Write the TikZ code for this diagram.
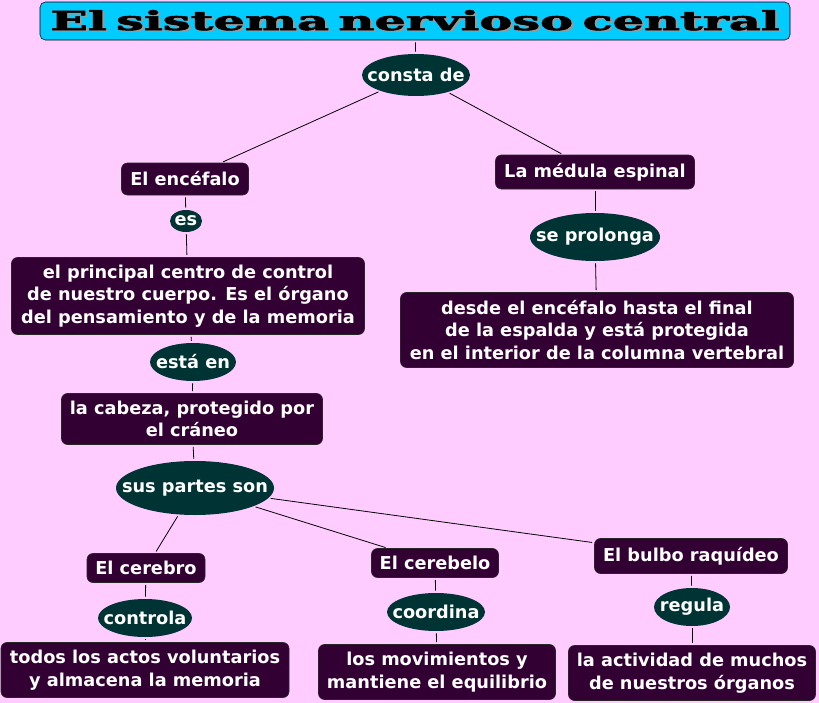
\documentclass[tikz,border=0pt]{standalone}
\usepackage{fontspec}
\usepackage{graphicx}
\setmainfont{DejaVu Sans}
\newfontfamily\titulofont[WordSpace=0.55, BoldFeatures={FakeBold=2}]{DejaVu Serif}
\usetikzlibrary{positioning, shapes.geometric}

\definecolor{fondo}{HTML}{FFCCFF}
\definecolor{caja}{HTML}{330033}
\definecolor{enlace}{HTML}{003333}
\definecolor{titulo}{HTML}{00CCFF}

\newcommand{\estrecho}[1]{\makebox[0pt]{#1}}
\newcommand{\consombra}[1]{\makebox[0pt][l]{\hspace{1.5pt}\raisebox{-1.2pt}{\color{black!40}#1}}#1}

\tikzset{
  concepto/.style={draw=black!85, fill=caja, rounded corners=4.5pt, text=white,
    font=\fontsize{13.3}{16.9}\selectfont\bfseries, align=center, inner sep=1pt, line width=0.5pt},
  palabra/.style={ellipse, fill=enlace, text=white,
    font=\fontsize{13.3}{15}\selectfont\bfseries, inner sep=0pt},
  une/.style={black, line width=0.6pt, shorten <=1.5pt, shorten >=1.5pt}
}

\begin{document}
\begin{tikzpicture}[x=0.75pt, y=-0.75pt]
    % Fondo
    \path[fill=fondo, use as bounding box] (0,0) rectangle (819,703);

    % Titulo
    \node[draw=black, fill=titulo, rounded corners=4pt, minimum width=562.5pt, minimum height=28.5pt, inner sep=0pt] (titulo) at (415,21)
        {\consombra{\resizebox{547pt}{15pt}{\titulofont\bfseries El sistema nervioso central}}};

    % Conceptos
    \node[palabra, minimum width=81pt, minimum height=31.5pt] (consta) at (416,75) {\estrecho{consta de}};
    \node[concepto, minimum width=95.25pt, minimum height=24pt] (encefalo) at (185,179) {El encéfalo};
    \node[concepto, minimum width=149.25pt, minimum height=25.5pt] (medula) at (595,172) {La médula espinal};

    \node[palabra, minimum width=24pt, minimum height=16.5pt] (es) at (186,221) {\estrecho{es}};
    \node[concepto, minimum width=264.75pt, minimum height=57.75pt] (principal) at (188,296)
        {el principal centro de control\\de nuestro cuerpo. Es el órgano\\del pensamiento y de la memoria};
    \node[palabra, minimum width=64.5pt, minimum height=28.5pt] (estaen) at (193,362) {\estrecho{está en}};
    \node[concepto, minimum width=195.75pt, minimum height=38.25pt] (cabeza) at (192,419)
        {la cabeza, protegido por\\el cráneo};
    \node[palabra, minimum width=118.5pt, minimum height=40.5pt] (partes) at (195,488) {\estrecho{sus partes son}};

    \node[palabra, minimum width=97.5pt, minimum height=36pt] (prolonga) at (595,237) {\estrecho{se prolonga}};
    \node[concepto, minimum width=294.75pt, minimum height=56.25pt] (espalda) at (597,330)
        {desde el encéfalo hasta el final\\de la espalda y está protegida\\en el interior de la columna vertebral};

    % Partes del encefalo
    \node[concepto, minimum width=88.5pt, minimum height=21.75pt] (cerebro) at (146,568) {El cerebro};
    \node[palabra, minimum width=70.5pt, minimum height=28.5pt] (controla) at (145,618) {\estrecho{controla}};
    \node[concepto, minimum width=216pt, minimum height=41.25pt] (actos) at (145,670)
        {todos los actos voluntarios\\y almacena la memoria};

    \node[concepto, minimum width=95.25pt, minimum height=21.75pt] (cerebelo) at (435,563) {El cerebelo};
    \node[palabra, minimum width=73.5pt, minimum height=28.5pt] (coordina) at (436,612) {\estrecho{coordina}};
    \node[concepto, minimum width=177.75pt, minimum height=41.25pt] (movimientos) at (437,672)
        {los movimientos y\\mantiene el equilibrio};

    \node[concepto, minimum width=144.75pt, minimum height=26.25pt] (bulbo) at (691,556) {El bulbo raquídeo};
    \node[palabra, minimum width=57pt, minimum height=28.5pt] (regula) at (692,607) {\estrecho{regula}};
    \node[concepto, minimum width=185.25pt, minimum height=41.25pt] (actividad) at (692,673)
        {la actividad de muchos\\de nuestros órganos};

    % Enlaces
    \draw[une] (titulo) -- (consta);
    \draw[une] (consta) -- (encefalo);
    \draw[une] (consta) -- (medula);
    \draw[une] (encefalo) -- (es);
    \draw[une] (es) -- (principal);
    \draw[une] (principal) -- (estaen);
    \draw[une] (estaen) -- (cabeza);
    \draw[une] (cabeza) -- (partes);
    \draw[une] (medula) -- (prolonga);
    \draw[une] (prolonga) -- (espalda);
    \draw[une] (partes) -- (cerebro);
    \draw[une] (partes) -- (cerebelo);
    \draw[une] (partes) -- (bulbo);
    \draw[une] (cerebro) -- (controla);
    \draw[une] (controla) -- (actos);
    \draw[une] (cerebelo) -- (coordina);
    \draw[une] (coordina) -- (movimientos);
    \draw[une] (bulbo) -- (regula);
    \draw[une] (regula) -- (actividad);
\end{tikzpicture}
\end{document}
